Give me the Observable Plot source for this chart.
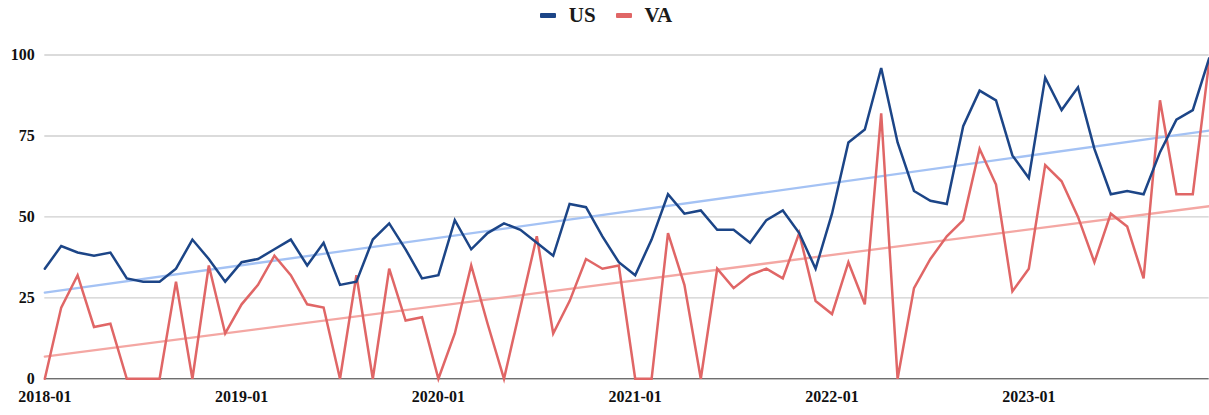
<!DOCTYPE html>
<html>
<head>
<meta charset="utf-8">
<script src="https://cdn.jsdelivr.net/npm/d3@7"></script>
<script src="https://cdn.jsdelivr.net/npm/@observablehq/plot@0.6"></script>
<style>
  html, body { margin: 0; padding: 0; background: #fff; }
  body { width: 1209px; height: 415px; overflow: hidden; font-family: "Liberation Serif", "Times New Roman", serif; }
  #legend { height: 30px; display: flex; justify-content: center; align-items: center; font-weight: bold; font-size: 21px; color: #1a1a1a; padding-left: 3px; }
  .item { display: flex; align-items: center; }
  .sw { width: 16px; height: 5px; border-radius: 1px; margin-right: 13px; }
  .item + .item { margin-left: 20px; }
  svg { display: block; }
</style>
</head>
<body>
<div id="legend"></div>
<div id="chart"></div>
<script>
const months = [];
for (let y = 2018; y <= 2023; y++) for (let m = 1; m <= 12; m++) months.push(`${y}-${String(m).padStart(2, "0")}`);

const seriesNames = ["US", "VA"];
const usValues = [
  34, 41, 39, 38, 39, 31, 30, 30, 34, 43, 37, 30,
  36, 37, 40, 43, 35, 42, 29, 30, 43, 48, 40, 31,
  32, 49, 40, 45, 48, 46, 42, 38, 54, 53, 44, 36,
  32, 43, 57, 51, 52, 46, 46, 42, 49, 52, 45, 34,
  51, 73, 77, 96, 73, 58, 55, 54, 78, 89, 86, 69,
  62, 93, 83, 90, 71, 57, 58, 57, 70, 80, 83, 99
];
const vaValues = [
  0, 22, 32, 16, 17, 0, 0, 0, 30, 0, 35, 14,
  23, 29, 38, 32, 23, 22, 0, 32, 0, 34, 18, 19,
  0, 14, 35, 17, 0, 22, 44, 14, 24, 37, 34, 35,
  0, 0, 45, 29, 0, 34, 28, 32, 34, 31, 45, 24,
  20, 36, 23, 82, 0, 28, 37, 44, 49, 71, 60, 27,
  34, 66, 61, 50, 36, 51, 47, 31, 86, 57, 57, 98
];
const xTickLabels = ["2018-01", "2019-01", "2020-01", "2021-01", "2022-01", "2023-01"];
const yTicks = [0, 25, 50, 75, 100];

const colors = { US: "#1c4587", VA: "#e06666" };
const trendColors = { US: "#a4c2f4", VA: "#f4a7a3" };

const data = [];
months.forEach((m, i) => {
  data.push({ i, month: m, series: "US", value: usValues[i] });
  data.push({ i, month: m, series: "VA", value: vaValues[i] });
});

// legend
const legend = document.getElementById("legend");
seriesNames.forEach(s => {
  const it = document.createElement("div");
  it.className = "item";
  it.innerHTML = `<span class="sw" style="background:${colors[s]}"></span><span>${s}</span>`;
  legend.appendChild(it);
});

const tickIdx = xTickLabels.map(l => months.indexOf(l));

const chart = Plot.plot({
  width: 1209,
  height: 385,
  marginLeft: 44.3,
  marginRight: 0.3,
  marginTop: 24.5,
  marginBottom: 36.7,
  style: { fontFamily: "'Liberation Serif', 'Times New Roman', serif", fontSize: "16px", fontWeight: "bold", color: "#111", background: "#fff" },
  x: { type: "linear", domain: [0, months.length - 1], ticks: tickIdx, tickFormat: i => months[i], tickSize: 0, tickPadding: 12, label: null },
  y: { domain: [0, 100], ticks: yTicks, tickSize: 0, tickPadding: 10, label: null },
  marks: [
    Plot.gridY(yTicks.filter(t => t > 0), { stroke: "#cfcfcf", strokeOpacity: 1, strokeWidth: 1.4 }),
    Plot.linearRegressionY(data.filter(d => d.series === "US"), { x: "i", y: "value", stroke: trendColors.US, strokeWidth: 2.3, ci: 0 }),
    Plot.linearRegressionY(data.filter(d => d.series === "VA"), { x: "i", y: "value", stroke: trendColors.VA, strokeWidth: 2.3, ci: 0 }),
    Plot.ruleY([0], { stroke: "#333", strokeWidth: 1 }),
    Plot.line(data.filter(d => d.series === "VA"), { x: "i", y: "value", stroke: colors.VA, strokeWidth: 2.5, strokeLinejoin: "miter", strokeMiterlimit: 4 }),
    Plot.line(data.filter(d => d.series === "US"), { x: "i", y: "value", stroke: colors.US, strokeWidth: 2.5, strokeLinejoin: "miter", strokeMiterlimit: 4 }),
    Plot.axisX({ ticks: tickIdx, tickFormat: i => months[i], tickSize: 0, tickPadding: 12, fontWeight: "bold", fontSize: 16 }),
    Plot.axisY({ ticks: yTicks, tickSize: 0, tickPadding: 10, fontWeight: "bold", fontSize: 16 })
  ]
});
document.getElementById("chart").appendChild(chart);
</script>
</body>
</html>
